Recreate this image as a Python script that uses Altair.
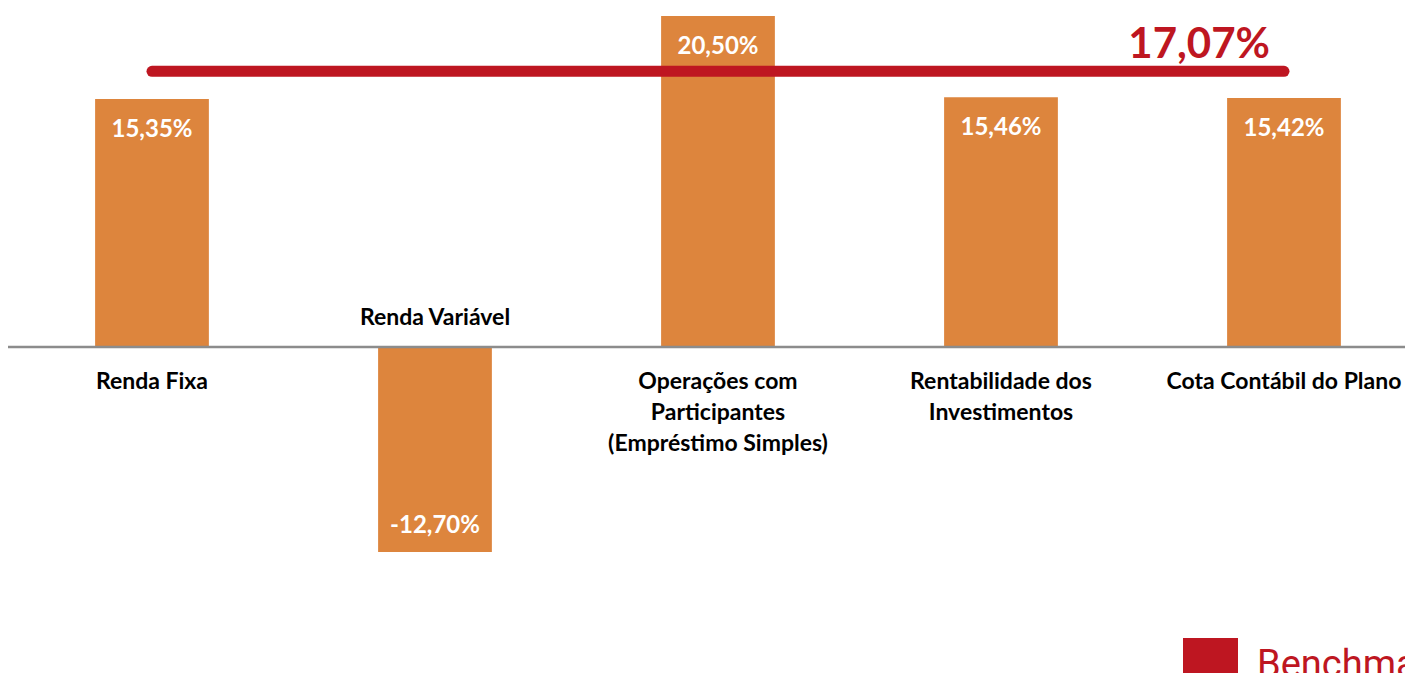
import altair as alt
import pandas as pd

categorias = [
    "Renda Fixa",
    "Renda Variável",
    "Operações com\nParticipantes\n(Empréstimo Simples)",
    "Rentabilidade dos\nInvestimentos",
    "Cota Contábil do Plano",
]
valores = [15.35, -12.70, 20.50, 15.46, 15.42]
rotulos = ["15,35%", "-12,70%", "20,50%", "15,46%", "15,42%"]

benchmark_nome = ["Benchmark"]
benchmark_valor = [17.07]
benchmark_rotulo = ["17,07%"]

LARANJA = "#DD853D"
VERMELHO = "#BE1621"
FONTE = "Lato"

df = pd.DataFrame({
    "idx": list(range(len(categorias))),
    "categoria": categorias,
    "valor": valores,
    "rotulo": rotulos,
})
df_b = pd.DataFrame({
    "serie": benchmark_nome,
    "valor": benchmark_valor,
    "rotulo": benchmark_rotulo,
    "ini": [0],
    "fim": [len(categorias) - 1],
})

xs = alt.Scale(domain=[-0.5088, 4.4276], nice=False, zero=False)
ys = alt.Scale(domain=[-20.19, 20.99], nice=False, zero=False)

base = alt.Chart(df)

barras = base.transform_calculate(
    x1="datum.idx - 0.201", x2="datum.idx + 0.201"
).mark_bar(color=LARANJA).encode(
    x=alt.X("x1:Q", scale=xs, axis=None),
    x2="x2:Q",
    y=alt.Y("valor:Q", scale=ys, axis=None),
    y2=alt.datum(0),
)

eixo = alt.Chart(df_b).transform_calculate(zero="0").mark_rule(
    color="#8C8C8C", strokeWidth=2.5
).encode(
    y=alt.Y("zero:Q", scale=ys, axis=None),
)

val_pos = base.transform_filter("datum.valor >= 0").mark_text(
    font=FONTE, fontWeight="bold", fontSize=24, color="white", dy=38, baseline="alphabetic"
).encode(
    x=alt.X("idx:Q", scale=xs, axis=None),
    y=alt.Y("valor:Q", scale=ys, axis=None),
    text="rotulo:N",
)
val_neg = base.transform_filter("datum.valor < 0").mark_text(
    font=FONTE, fontWeight="bold", fontSize=24, color="white", dy=-19, baseline="alphabetic"
).encode(
    x=alt.X("idx:Q", scale=xs, axis=None),
    y=alt.Y("valor:Q", scale=ys, axis=None),
    text="rotulo:N",
)

cat_pos = base.transform_filter("datum.valor >= 0").transform_calculate(zero="0").mark_text(
    font=FONTE, fontWeight="bold", fontSize=23, color="black", dy=42,
    baseline="alphabetic", lineBreak="\n", lineHeight=31,
).encode(
    x=alt.X("idx:Q", scale=xs, axis=None),
    y=alt.Y("zero:Q", scale=ys, axis=None),
    text="categoria:N",
)
cat_neg = base.transform_filter("datum.valor < 0").transform_calculate(zero="0").mark_text(
    font=FONTE, fontWeight="bold", fontSize=23, color="black", dy=-22,
    baseline="alphabetic", lineBreak="\n", lineHeight=31,
).encode(
    x=alt.X("idx:Q", scale=xs, axis=None),
    y=alt.Y("zero:Q", scale=ys, axis=None),
    text="categoria:N",
)

linha = alt.Chart(df_b).mark_rule(strokeWidth=11, strokeCap="round").encode(
    x=alt.X("ini:Q", scale=xs, axis=None),
    x2="fim:Q",
    y=alt.Y("valor:Q", scale=ys, axis=None),
    color=alt.Color(
        "serie:N",
        scale=alt.Scale(range=[VERMELHO]),
        legend=alt.Legend(
            orient="none", legendX=1175, legendY=630, title=None,
            symbolType="square", symbolSize=3025, symbolFillColor=VERMELHO,
            symbolStrokeColor=VERMELHO, symbolStrokeWidth=0,
            labelFont="Roboto", labelFontSize=38, labelColor=VERMELHO,
            labelOffset=19, labelLimit=500, padding=0,
        ),
    ),
)

linha_rot = alt.Chart(df_b).mark_text(
    font=FONTE, fontWeight="bold", fontSize=42, color=VERMELHO,
    align="right", baseline="alphabetic", dx=-14, dy=-13,
).encode(
    x=alt.X("fim:Q", scale=xs, axis=None),
    y=alt.Y("valor:Q", scale=ys, axis=None),
    text="rotulo:N",
)

chart = alt.layer(
    barras, eixo, val_pos, val_neg, cat_pos, cat_neg, linha, linha_rot
).properties(
    width=1397, height=665, autosize=alt.AutoSizeParams(type="none"), padding=0,
).configure_view(stroke=None)

chart.save("out.html", embed_options={"renderer": "svg", "actions": False})
